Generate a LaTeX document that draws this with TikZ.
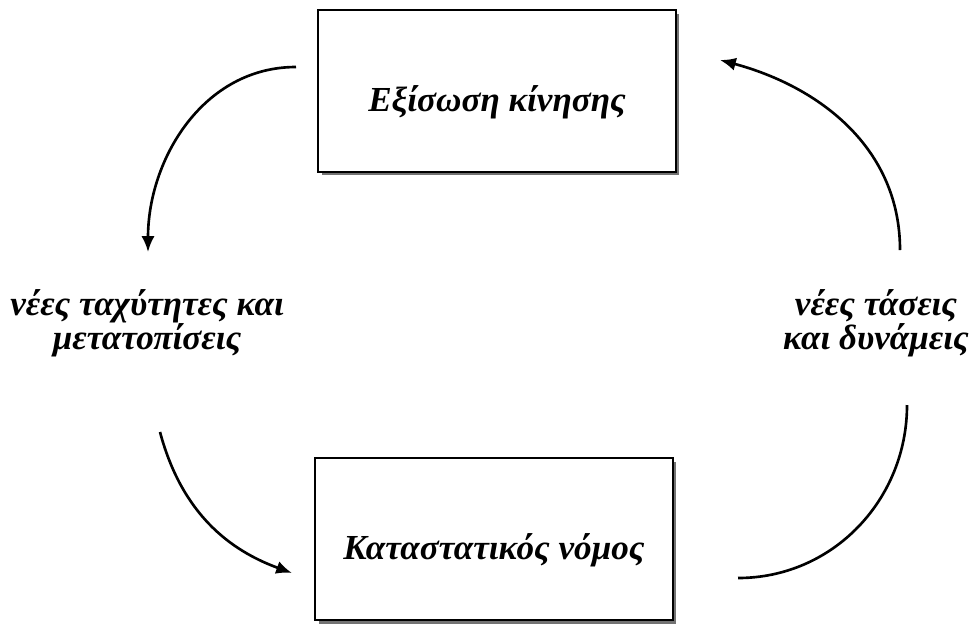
\documentclass[tikz,border=0pt]{standalone}
\usepackage{fontspec}
\setmainfont{Liberation Serif}
\usetikzlibrary{arrows.meta,shadows,positioning}
\tikzset{
  >={Latex[length=9pt,width=7.5pt]},
  blockbox/.style={rectangle, draw=black, line width=1pt, fill=white,
                   minimum width=7.16cm, minimum height=3.24cm,
                   text height=24pt, text depth=1pt,
                   drop shadow={shadow xshift=0.07cm, shadow yshift=-0.07cm,
                                fill=black!55, opacity=1},
                   font=\fontsize{20}{24}\selectfont\bfseries\itshape},
  flowlabel/.style={align=center,
                    font=\fontsize{20}{19.5}\selectfont\bfseries\itshape},
  flow/.style={line width=1.5pt}
}

\begin{document}
\begin{tikzpicture}[x=0.02cm,y=-0.02cm]
      \useasboundingbox (0,0) rectangle (979,623);

      % The two blocks.
      \node[blockbox] (motion) at (497,91) {Εξίσωση κίνησης};
      \node[blockbox] (law) at (494,539) {Καταστατικός νόμος};

      % Labels between the blocks.
      \node[flowlabel] (disp) at (147,323) {νέες ταχύτητες και\\μετατοπίσεις};
      \node[flowlabel] (forces) at (876,323) {νέες τάσεις\\και δυνάμεις};

      % End points of the curved arrows.
      \coordinate (a1) at (296,67);
      \coordinate (a2) at (148,252);
      \coordinate (b1) at (160,432);
      \coordinate (b2) at (292,573);
      \coordinate (c1) at (738,578);
      \coordinate (c2) at (907,405);
      \coordinate (d1) at (900,250);
      \coordinate (d2) at (720,60);

      % Curved arrows round the cycle.
      \draw[flow,->] (a1) to[out=180,in=90] (a2);
      \draw[flow,->] (b1) to[out=-75,in=160] (b2);
      \draw[flow] (c1) to[out=0,in=-90] (c2);
      \draw[flow,->] (d1) to[out=90,in=-15] (d2);

\end{tikzpicture}
\end{document}
